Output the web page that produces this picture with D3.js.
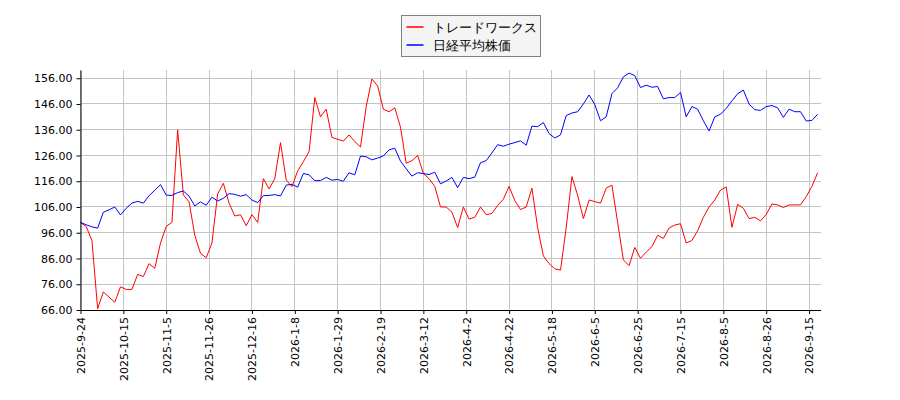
<!DOCTYPE html>
<html>
<head>
<meta charset="utf-8">
<script src="https://cdn.jsdelivr.net/npm/d3@7"></script>
<style>
  body { margin: 0; background: #fff; }
  text { font-family: "DejaVu Sans", sans-serif; }
</style>
</head>
<body>
<div id="chart"></div>
<script>
// data, one value every 2 trading days
const seriesNames = ['トレードワークス', '日経平均株価'];
const seriesColors = ['#ff0000', '#0000ff'];
const dayStep = 2;
const lastDay = 259;

const tradeWorks = [
  100, 98.4, 93, 66.5, 73, 71, 69, 75, 74, 74,
  79.8, 79, 84, 82.2, 92, 98.5, 100, 136, 110.7, 108,
  95, 88, 86.3, 92, 111, 115.2, 107.5, 102.5, 103, 98.7,
  103, 100, 117, 113, 117, 131, 116.5, 113.9, 120, 123.6,
  127.5, 148.5, 141, 144, 133, 132.3, 131.6, 134, 131.4, 129.3,
  145, 155.7, 153, 144, 143, 144.5, 137, 123, 124, 126,
  119, 117, 114, 106, 106, 104, 98, 106, 101.3, 102,
  106, 103, 103.5, 106.6, 109, 114, 108.5, 105, 106, 113.3,
  98, 87, 84, 82, 81.5, 98, 117.8, 110.5, 101.5, 108.7,
  108.1, 107.5, 113.3, 114.5, 100, 85.5, 83.2, 90.3, 86.1, 88.5,
  90.6, 95, 93.8, 97.8, 99, 99.5, 92, 93, 96.8, 102,
  106, 108.7, 112.6, 113.8, 98.1, 107, 105.5, 101.5, 102, 100.6,
  103.1, 107.2, 106.8, 105.8, 106.8, 106.8, 106.8, 110, 114, 119.3
];

const nikkei = [
  100, 99.1, 98.3, 97.8, 104, 104.9, 106, 102.9, 105.5, 107.5,
  108.2, 107.5, 110.4, 112.5, 114.7, 110.6, 110.5, 111.6, 112.2, 110.2,
  106.4, 108, 106.7, 109.8, 108.3, 109.4, 111.2, 110.9, 110.2, 110.8,
  108.7, 107.7, 110.4, 110.5, 110.8, 110.3, 114.5, 114.8, 113.7, 119,
  118.5, 116.2, 116.3, 117.5, 116.4, 116.7, 116, 119.3, 118.5, 125.8,
  125.5, 124.3, 125, 125.8, 128.2, 128.8, 123.8, 120.8, 118, 119.3,
  119, 118.6, 119.5, 115, 116.1, 117.5, 113.5, 117.5, 117, 117.6,
  123.2, 124, 127, 130.2, 129.6, 130.4, 131, 131.7, 130, 137.4,
  137.2, 138.8, 134.5, 132.8, 134, 141.5, 142.5, 143, 146, 149.5,
  145.8, 139.5, 141, 150, 152.3, 156.5, 158, 157, 152.4, 153.3,
  152.5, 152.8, 148, 148.5, 148.5, 150.5, 141, 145, 144, 139.5,
  135.5, 141, 142, 144.3, 147.2, 150, 151.4, 146, 143.8, 143.5,
  145, 145.4, 144.5, 140.8, 144, 143, 143, 139.4, 139.6, 142
];

const yTicks = [66, 76, 86, 96, 106, 116, 126, 136, 146, 156];
const xTickLabels = [
  '2025-9-24', '2025-10-15', '2025-11-5', '2025-11-26', '2025-12-16',
  '2026-1-8', '2026-1-29', '2026-2-19', '2026-3-12', '2026-4-2',
  '2026-4-22', '2026-5-18', '2026-6-5', '2026-6-25', '2026-7-15',
  '2026-8-5', '2026-8-26', '2026-9-15'
];
const xTickEvery = 15;

const width = 900;
const height = 400;
const margin = { top: 70, right: 79.5, bottom: 90, left: 80.5 };

const svg = d3.select('#chart')
  .append('svg')
  .attr('width', width)
  .attr('height', height);

const x = d3.scaleLinear()
  .domain([0, lastDay])
  .range([margin.left, width - margin.right]);

const y = d3.scaleLinear()
  .domain([66, 159.2])
  .range([height - margin.bottom, margin.top]);

const xTickValues = xTickLabels.map((d, i) => i * xTickEvery);

// grid
const grid = svg.append('g')
  .attr('stroke', '#c4c4c4')
  .attr('stroke-width', 1)
  .attr('shape-rendering', 'crispEdges');

grid.selectAll('.gx')
  .data(xTickValues)
  .enter()
  .append('line')
  .attr('x1', d => x(d)).attr('x2', d => x(d))
  .attr('y1', margin.top).attr('y2', height - margin.bottom);

grid.selectAll('.gy')
  .data(yTicks)
  .enter()
  .append('line')
  .attr('x1', margin.left).attr('x2', width - margin.right)
  .attr('y1', d => y(d)).attr('y2', d => y(d));

// lines
const line = d3.line()
  .x((d, i) => x(i * dayStep))
  .y(d => y(d));

[tradeWorks, nikkei].forEach((values, s) => {
  svg.append('path')
    .datum(values)
    .attr('fill', 'none')
    .attr('stroke', seriesColors[s])
    .attr('stroke-width', 1)
    .attr('stroke-linejoin', 'round')
    .attr('d', line);
});

// axes
const yAxis = svg.append('g')
  .attr('transform', `translate(${margin.left},0)`)
  .call(d3.axisLeft(y)
    .tickValues(yTicks)
    .tickFormat(d3.format('.2f'))
    .tickSize(4)
    .tickSizeOuter(0)
    .tickPadding(4));

const xAxis = svg.append('g')
  .attr('transform', `translate(0,${height - margin.bottom})`)
  .call(d3.axisBottom(x)
    .tickValues(xTickValues)
    .tickFormat((d, i) => xTickLabels[i])
    .tickSize(4)
    .tickSizeOuter(0));

xAxis.selectAll('text')
  .attr('transform', 'rotate(-90)')
  .attr('text-anchor', 'end')
  .attr('x', -7)
  .attr('y', 0)
  .attr('dy', '0.35em');

[xAxis, yAxis].forEach(a => {
  a.selectAll('text')
    .attr('font-size', 11)
    .attr('font-family', '"DejaVu Sans", sans-serif')
    .attr('fill', '#000');
  a.selectAll('line').attr('stroke', '#000');
  a.select('.domain').attr('stroke', '#000');
});

// legend
const legend = svg.append('g')
  .attr('transform', 'translate(401.5,15.5)');

legend.append('rect')
  .attr('width', 139)
  .attr('height', 41)
  .attr('fill', '#f4f4f4')
  .attr('stroke', '#808080')
  .attr('stroke-width', 1);

seriesNames.forEach((name, i) => {
  const row = legend.append('g')
    .attr('transform', `translate(0,${11.5 + i * 18})`);
  row.append('line')
    .attr('x1', 5).attr('x2', 22)
    .attr('stroke', seriesColors[i])
    .attr('stroke-width', 1.5);
  row.append('text')
    .attr('x', 31)
    .attr('dy', '0.35em')
    .attr('font-size', 13)
    .attr('font-family', '"Noto Sans CJK JP", sans-serif')
    .attr('fill', '#000')
    .text(name);
});
</script>
</body>
</html>
